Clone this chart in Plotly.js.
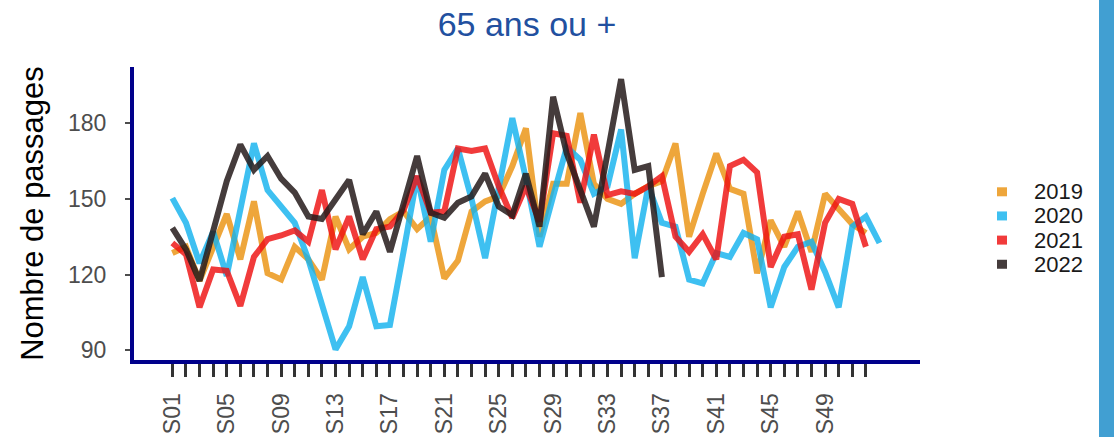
<!DOCTYPE html>
<html>
<head>
<meta charset="utf-8">
<script src="https://cdn.plot.ly/plotly-3.0.1.min.js"></script>
<style>
  html, body { margin: 0; padding: 0; background: #ffffff; overflow: hidden; }
  #chart { width: 1114px; height: 437px; }
  #sidebar { position: absolute; left: 1099px; top: 0; width: 15px; height: 437px; background: #419FD2; }
</style>
</head>
<body>
<div id="chart"></div>
<div id="sidebar"></div>
<script>
// ---- data ----
const weeks = [1,2,3,4,5,6,7,8,9,10,11,12,13,14,15,16,17,18,19,20,21,22,23,24,25,26,
               27,28,29,30,31,32,33,34,35,36,37,38,39,40,41,42,43,44,45,46,47,48,49,50,51,52,53];

const tickWeeks = [1,2,3,4,5,6,7,8,9,10,11,12,13,14,15,16,17,18,19,20,21,22,23,24,25,26,
                   27,28,29,30,31,32,33,34,35,36,37,38,39,40,41,42,43,44,45,46,47,48,49,50,51,52];
const tickLabels = ["S01","","","","S05","","","","S09","","","","S13","","","","S17","","","",
                    "S21","","","","S25","","","","S29","","","","S33","","","","S37","","","",
                    "S41","","","","S45","","","","S49","","",""];

const years = ["2019", "2020", "2021", "2022"];

const values2019 = [128.5,131,117.5,131,144,126,149,120.5,118,131,126,118,143,130,135,136.5,142,145,138,143,
                    118.5,125.5,145,149,151,163,178,135,156,156,184,156,150,148,152,155,157,172,135,152,
                    168,154,152,120.5,141.5,131,145,129,152,146,140,136.5];
const values2020 = [150.3,140.5,124.5,137,119.5,146,172,153.5,147,140.5,126,107.5,90.3,99.5,119,99.5,100,129,159,133,
                    161.5,170,150,126.5,154.5,182,158,131,151,170.5,165.5,152,155,177.5,126.5,155,140.5,139,118,116.5,
                    128.5,127,136.5,134,107,123,131,133,121,107,139,143,132.5];
const values2021 = [132.5,128,107,122,121.5,107.5,127,134,135.5,137.5,133,153.5,130,143,126,138,139,145.5,159,144.5,
                    145,170,169,170,155,142.5,155,141,176,175,148.5,175.5,151.5,153,152,155,159,135,129,136,
                    126,163,165.5,160.5,123,135,136,114,140.5,150,148,131];
const values2022 = [138.5,130,117.5,137,157,171.5,161.5,167,158,152.5,143,142,149.5,157.5,136,145,129,147,167,144.5,
                    142.5,148.5,151,160,147,143.5,160,139,190.5,168,154,139,168,197.5,161.5,163,119];

const yTicks = [90, 120, 150, 180];

// ---- styles ----
const seriesValues = [values2019, values2020, values2021, values2022];
const seriesColors = ["rgba(234,146,16,0.82)", "rgba(20,178,238,0.82)", "rgba(238,16,16,0.82)", "rgba(38,28,28,0.86)"];
const fontFamily = "Liberation Sans, Arial, Helvetica, sans-serif";

const traces = years.map((yr, i) => ({
  type: "scatter",
  mode: "lines",
  name: yr,
  x: weeks.slice(0, seriesValues[i].length),
  y: seriesValues[i],
  line: { color: seriesColors[i], width: 6 },
  showlegend: false,
  hoverinfo: "x+y+name"
}));

// plot area geometry (pixels)
const W = 1114, H = 437;
const mL = 134, mR = 194, mT = 67, mB = 76.5;
const plotW = W - mL - mR, plotH = H - mT - mB;

// legend built with annotations + shapes (keys as small squares like the reference)
const legX = 1002, legTextX = 1032, legY0 = 192, legStep = 24.2;
const annotations = years.map((yr, i) => ({
  xref: "paper", yref: "paper",
  x: (legTextX - mL) / plotW, y: (H - mB - (legY0 + i * legStep)) / plotH,
  xanchor: "left", yanchor: "middle",
  text: yr, showarrow: false,
  font: { family: fontFamily, size: 22, color: "#1a1a1a" }
}));
const shapes = years.map((yr, i) => ({
  type: "rect", xref: "paper", yref: "paper",
  xsizemode: "pixel", ysizemode: "pixel",
  xanchor: (legX - mL) / plotW, yanchor: (H - mB - (legY0 + i * legStep)) / plotH,
  x0: -5, x1: 5, y0: -4.5, y1: 4.5,
  line: { width: 0 }, fillcolor: seriesColors[i]
}));

const layout = {
  width: W, height: H,
  margin: { l: mL, r: mR, t: mT, b: mB, pad: 0 },
  paper_bgcolor: "#ffffff", plot_bgcolor: "#ffffff",
  showlegend: false,
  font: { family: fontFamily },
  title: {
    text: "65 ans ou +",
    font: { family: fontFamily, size: 34, color: "#22509F" },
    x: 0.5, xref: "paper", xanchor: "center",
    y: 1 - 24 / H, yref: "container", yanchor: "middle"
  },
  xaxis: {
    range: [-1.82, 55.98],
    tickmode: "array", tickvals: tickWeeks, ticktext: tickLabels,
    tickangle: -90,
    ticks: "outside", ticklen: 13, tickwidth: 3, tickcolor: "#333333",
    tickfont: { family: fontFamily, size: 23, color: "#4D4D4D" },
    ticklabelstandoff: 7,
    showline: true, linecolor: "#00008B", linewidth: 4,
    showgrid: false, zeroline: false, fixedrange: true
  },
  yaxis: {
    range: [86.1, 202.3],
    tickmode: "array", tickvals: yTicks,
    ticks: "outside", ticklen: 5, tickwidth: 2, tickcolor: "#4D4D4D",
    tickfont: { family: fontFamily, size: 23, color: "#4D4D4D" },
    ticklabelstandoff: 14,
    showline: true, linecolor: "#00008B", linewidth: 4,
    showgrid: false, zeroline: false, fixedrange: true,
    title: { text: "Nombre de passages", font: { family: fontFamily, size: 31, color: "#000000" }, standoff: 16 }
  },
  annotations: annotations,
  shapes: shapes
};

Plotly.newPlot("chart", traces, layout, { staticPlot: true, displayModeBar: false });
</script>
</body>
</html>
